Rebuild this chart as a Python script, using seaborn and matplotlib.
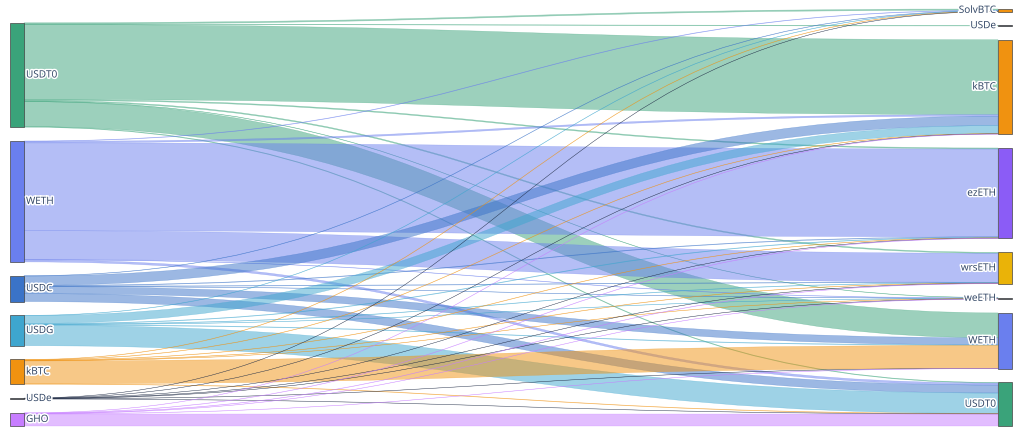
import numpy as np
import pandas as pd
import matplotlib
matplotlib.use('Agg')
import matplotlib.pyplot as plt
import matplotlib.patheffects as pe
from matplotlib.path import Path
from matplotlib.patches import PathPatch, Rectangle
import seaborn as sns

# 左列（来源）和右列（去向）的代币
sources = ['USDT0', 'WETH', 'USDC', 'USDG', 'kBTC', 'USDe', 'GHO']
targets = ['SolvBTC', 'USDe', 'kBTC', 'ezETH', 'wrsETH', 'weETH', 'WETH', 'USDT0']

# 每个来源流向各目标的量（顺序同 targets）
usdt0_flows = [1.2, 0.5, 75.0, 1.0, 1.0, 0.3, 25.0, 0.6]
weth_flows = [0.4, 0.0, 1.5, 88.0, 29.0, 0.3, 0.0, 2.0]
usdc_flows = [0.3, 0.0, 9.5, 0.5, 0.4, 0.2, 7.0, 8.0]
usdg_flows = [0.3, 0.0, 8.0, 0.5, 0.4, 0.2, 0.5, 20.5]
kbtc_flows = [0.3, 0.0, 0.3, 0.3, 0.3, 0.2, 23.0, 0.4]
usde_flows = [0.15, 0.0, 0.15, 0.1, 0.15, 0.15, 0.15, 0.15]
gho_flows = [0.0, 0.0, 0.2, 0.3, 0.3, 0.2, 0.2, 12.0]

source_colors = ['#3aa37a', '#6a7fee', '#3a73c8', '#3ea6cf', '#f09210', '#1e2a44', '#c77dff']
target_colors = ['#f09210', '#1e2a44', '#f09210', '#8b5cf6', '#eab308', '#334155', '#6a7fee', '#3aa37a']

flows = pd.DataFrame([usdt0_flows, weth_flows, usdc_flows, usdg_flows,
                      kbtc_flows, usde_flows, gho_flows],
                     index=sources, columns=targets)
links = flows.stack().reset_index()
links.columns = ['src', 'tgt', 'value']
links = links[links['value'] > 0]

# 布局参数（像素）
W, H = 1024, 437
top, bottom = 9, 426
pad = 13.8
node_w = 14
x_left, x_right = 10, 998

src_tot = flows.sum(axis=1)
tgt_tot = flows.sum(axis=0)
ky = min((bottom - top - (len(sources) - 1) * pad) / src_tot.sum(),
         (bottom - top - (len(targets) - 1) * pad) / tgt_tot.sum())


def stack_nodes(totals):
    heights = totals * ky
    span = heights.sum() + pad * (len(totals) - 1)
    y = bottom - span
    pos = []
    for h in heights:
        pos.append((y, y + h))
        y += h + pad
    return pos


src_pos = stack_nodes(src_tot.values)
tgt_pos = stack_nodes(tgt_tot.values)

sns.set_theme(style='white')
plt.rcParams['font.family'] = ['Open Sans', 'DejaVu Sans']

fig = plt.figure(figsize=(W / 100, H / 100), dpi=100)
ax = fig.add_axes([0, 0, 1, 1])
ax.set_xlim(0, W)
ax.set_ylim(H, 0)
ax.axis('off')

# 画连线（三次贝塞尔带）
src_off = [p[0] for p in src_pos]
tgt_off = [p[0] for p in tgt_pos]
x0 = x_left + node_w
x1 = x_right
xm = (x0 + x1) / 2
for _, row in links.iterrows():
    si = sources.index(row['src'])
    ti = targets.index(row['tgt'])
    h = row['value'] * ky
    y0a, y0b = src_off[si], src_off[si] + h
    y1a, y1b = tgt_off[ti], tgt_off[ti] + h
    src_off[si] += h
    tgt_off[ti] += h
    verts = [(x0, y0a), (xm, y0a), (xm, y1a), (x1, y1a),
             (x1, y1b), (xm, y1b), (xm, y0b), (x0, y0b), (x0, y0a)]
    codes = [Path.MOVETO, Path.CURVE4, Path.CURVE4, Path.CURVE4,
             Path.LINETO, Path.CURVE4, Path.CURVE4, Path.CURVE4, Path.CLOSEPOLY]
    col = source_colors[si]
    ax.add_patch(PathPatch(Path(verts, codes), facecolor=col, edgecolor=col,
                           lw=0.3, alpha=0.5))

# 画节点和标签
halo = [pe.withStroke(linewidth=2.2, foreground='white')]
for name, (ya, yb), col in zip(sources, src_pos, source_colors):
    ax.add_patch(Rectangle((x_left, ya), node_w, yb - ya, facecolor=col,
                           edgecolor='#444444', lw=0.5))
    ax.text(x_left + node_w + 2, (ya + yb) / 2, name, ha='left', va='center',
            fontsize=7.2, color='#2a3f5f', path_effects=halo)
for name, (ya, yb), col in zip(targets, tgt_pos, target_colors):
    ax.add_patch(Rectangle((x_right, ya), node_w, yb - ya, facecolor=col,
                           edgecolor='#444444', lw=0.5))
    ax.text(x_right - 2, (ya + yb) / 2, name, ha='right', va='center',
            fontsize=7.2, color='#2a3f5f', path_effects=halo)

fig.savefig('out.png', dpi=100, facecolor='white')
